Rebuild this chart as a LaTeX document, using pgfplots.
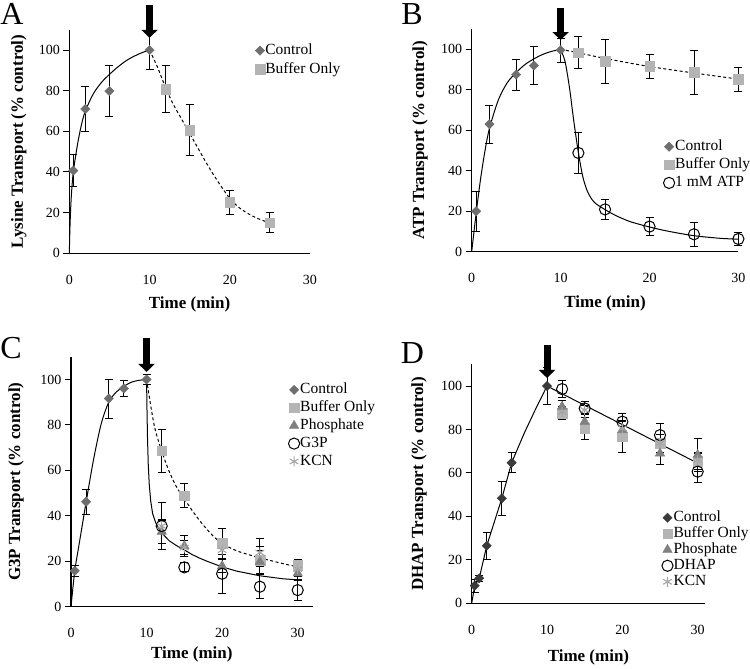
\documentclass[border=0pt]{standalone}
\usepackage{fontspec}
\setmainfont{Liberation Serif}
\usepackage{pgfplots}
\pgfplotsset{compat=1.18}
\usetikzlibrary{arrows.meta}
\definecolor{ctrlc}{HTML}{6E6E6E}
\definecolor{ctrld}{HTML}{3A3A3A}
\definecolor{bufc}{HTML}{B4B4B4}
\definecolor{phosc}{HTML}{808080}
\definecolor{kcnc}{HTML}{A6A6A6}
\tikzset{downarrow/.style={line width=7pt, -{Triangle[width=16pt 0, length=8pt 0]}}}
\pgfplotsset{
  panel/.style={
    scale only axis, axis lines=left,
    axis line style={-, line width=1.1pt, black},
    xmin=0, ymin=0, ymax=110,
    xtick={0,10,20,30}, ytick={0,20,40,60,80,100},
    tick align=outside, major tick length=6pt,
    xtick style={draw=none}, ytick style={line width=1pt, black},
    tick label style={font=\fontsize{14}{14}\selectfont},
    /pgf/number format/assume math mode=true,
    xticklabel style={yshift=-12pt},
    clip=false,
    label style={font=\fontsize{17}{17}\selectfont\bfseries},
    legend cell align=left,
    legend style={draw=none, fill=none, font=\fontsize{15.5}{15.5}\selectfont, inner sep=0pt,
      nodes={inner sep=0.5pt, text height=10.5pt, text depth=3pt},
      /tikz/every even column/.append style={column sep=2.5pt}},
    legend image code/.code={\draw[##1] plot coordinates {(4.5pt,0pt)};},
  },
  errb/.style={error bars/y dir=both, error bars/y explicit,
    error bars/error bar style={black, line width=0.9pt, solid},
    error bars/error mark options={rotate=90, black, mark size=4pt, line width=0.9pt}},
  ctrl/.style={only marks, mark=square*, mark size=3.3pt, color=ctrlc, mark options={rotate=45, draw=ctrlc, fill=ctrlc}, errb},
  ctrlD/.style={only marks, mark=square*, mark size=3.3pt, color=ctrld, mark options={rotate=45, draw=ctrld, fill=ctrld}, errb},
  buf/.style={only marks, mark=square*, mark size=4.8pt, color=bufc, mark options={draw=bufc, fill=bufc}, errb},
  phos/.style={only marks, mark=triangle*, mark size=5.5pt, color=phosc, mark options={draw=phosc, fill=phosc}, errb},
  circ/.style={only marks, mark=o, mark size=5.6pt, color=black, mark options={draw=black, fill=white, line width=1pt}, errb},
  kcn/.style={only marks, mark=asterisk, mark size=5pt, color=kcnc, mark options={draw=kcnc, line width=1.1pt}, errb},
  fitsolid/.style={black, line width=1pt, smooth, forget plot},
  fitdash/.style={black, line width=1pt, smooth, dash pattern=on 3pt off 2.5pt, forget plot},
}
\begin{document}
\begin{tikzpicture}
\useasboundingbox (0,0) rectangle (750pt,669pt);
% ---------------- A ----------------
\begin{axis}[panel, at={(69.3pt,415.7pt)}, anchor=south west, width=240.7pt, height=223.6pt, xmax=30,
  xlabel={Time (min)}, ylabel={Lysine Transport (\% control)},
  xlabel style={at={([yshift=-51pt]axis description cs:0.5,0)}, anchor=center},
  ylabel style={at={([xshift=-50.5pt]axis description cs:0,0.5)}, anchor=center},
  legend style={at={(0.7715,0.94)}, anchor=north west, row sep=4.4pt}]
\addplot[fitsolid] coordinates {(0,0) (0.1,15) (0.25,28) (0.5,40) (1,53) (1.5,63) (2,70) (3,78.5) (4,84) (5,88) (6,91.5) (7,94.5) (8,96.8) (9,98.6) (10,100)};
\addplot[fitdash] coordinates {(10,100) (11,91.5) (12,81.5) (13,73) (14,66) (15,59) (16,52) (17,45) (18,38.5) (19,32.5) (20,27) (21,23) (22,20.2) (23,18) (24,16.3) (25,15)};
\addplot[ctrl] table[x=x, y=y, y error=e] {
x y e
0.5 40.7 8
2 71 11
5 79.8 12.5
10 100 9.4
};
\addlegendentry{Control}
\addplot[buf] table[x=x, y=y, y error=e] {
x y e
12 80.7 11.5
15 60.7 12.7
20 25.1 6
25 15.1 5
};
\addlegendentry{Buffer Only}
\draw[downarrow] (axis cs:10,122) -- (axis cs:10,106);
\end{axis}
% ---------------- B ----------------
\begin{axis}[panel, at={(471.7pt,417.3pt)}, anchor=south west, width=266.7pt, height=222.6pt, xmax=30,
  xlabel={Time (min)}, ylabel={ATP Transport (\% control)},
  xlabel style={at={([yshift=-52pt]axis description cs:0.5,0)}, anchor=center},
  ylabel style={at={([xshift=-51.7pt]axis description cs:0,0.5)}, anchor=center},
  legend style={at={(0.7184,0.505)}, anchor=north west, row sep=3.6pt}]
\addplot[fitsolid] coordinates {(0,0) (0.5,19) (1,36) (1.5,50) (2,61) (3,75) (4,83.5) (5,88.5) (6,92.5) (7,95.3) (8,97.5) (9,99) (10,100)};
\addplot[fitsolid] coordinates {(10,100) (10.5,94) (11,81) (11.5,64) (12,49) (12.5,37) (13,30) (13.5,26) (14,23.6) (15,20.8) (16,18.3) (17,16.3) (18,14.6) (20,12.2) (22,10.2) (25,7.9) (28,6.6) (30,6.2)};
\addplot[fitdash] coordinates {(10,100) (12,98.3) (15,95.5) (20,91.5) (25,88.3) (30,85.3)};
\addplot[ctrl] table[x=x, y=y, y error=e] {
x y e
0.5 20 10
2 63 9.5
5 87.5 7.7
7 92 9.3
10 99.6 6
};
\addlegendentry{Control}
\addplot[buf] table[x=x, y=y, y error=e] {
x y e
12 98.3 7.9
15 94 11
20 91.6 6.1
25 88.6 10.7
30 85.2 5.8
};
\addlegendentry{Buffer Only}
\addplot[circ] table[x=x, y=y, y error=e] {
x y e
12 48.8 10.3
15 20.9 5
20 12.4 4.5
25 8.6 6
30 6.3 3
};
\addlegendentry{1 mM ATP}
\draw[downarrow] (axis cs:10,120.5) -- (axis cs:10,104.6);
\end{axis}
% ---------------- C ----------------
\begin{axis}[panel, at={(71pt,62.3pt)}, anchor=south west, width=241.8pt, height=250pt, xmax=32,
  xlabel={Time (min)}, ylabel={G3P Transport (\% control)},
  xlabel style={at={([yshift=-48pt]axis description cs:0.5,0)}, anchor=center},
  ylabel style={at={([xshift=-55pt]axis description cs:0,0.5)}, anchor=center},
  legend style={at={(0.8987,0.897)}, anchor=north west, row sep=3.4pt}]
\addplot[fitsolid] coordinates {(0,0) (0.5,15.8) (1,26) (2,46) (3,65) (4,80.5) (5,90) (6,94.5) (7,97) (8,98.8) (9,99.6) (10,100)};
\addplot[black, line width=1pt, forget plot] coordinates {(10,100) (10.05,88) (10.12,75) (10.22,63) (10.35,54) (10.55,46.5) (10.8,41) (11.2,37) (11.6,34.5) (12,32.5) (13,29) (14,26.8) (15,25) (16,23) (17,21.4) (18,20) (20,17.5) (22,15.6) (25,13.6) (28,12.3) (30,11.8)};
\addplot[fitdash] coordinates {(10,100) (11,80) (12,68.5) (13,59.5) (14,52.5) (15,47.5) (16,42.5) (17,38) (18,34) (19,30.5) (20,27.8) (22,24.5) (25,21.5) (28,19) (30,17.5)};
\addplot[ctrl] table[x=x, y=y, y error=e] {
x y e
0.5 15.8 2.5
2 46.2 5.6
5 91.6 8.6
7 96 3.5
10 100 2
};
\addlegendentry{Control}
\addplot[buf] table[x=x, y=y, y error=e] {
x y e
12 68.6 9.5
15 48.8 5.3
20 27.9 6.5
25 20.5 6
30 18.3 2.5
};
\addlegendentry{Buffer Only}
\addplot[phos] table[x=x, y=y, y error=e] {
x y e
12 33 5
15 26.7 4.5
20 17.9 3
25 19.8 5
30 14.7 3
};
\addlegendentry{Phosphate}
\addplot[circ] table[x=x, y=y, y error=e] {
x y e
12 35.5 10.5
15 17.3 2
20 14.5 8.5
25 8.8 5.2
30 7.3 4.5
};
\addlegendentry{G3P}
\addplot[kcn] table[x=x, y=y, y error=e] {
x y e
12 35.5 3
15 26 3
20 24.9 4
25 23.8 6.3
30 16.5 3
};
\addlegendentry{KCN}
\draw[downarrow] (axis cs:10,118.2) -- (axis cs:10,103.3);
\end{axis}
% ---------------- D ----------------
\begin{axis}[panel, at={(471.7pt,65.7pt)}, anchor=south west, width=233.5pt, height=239pt, xmax=31,
  xlabel={Time (min)}, ylabel={DHAP Transport (\% control)},
  xlabel style={at={([yshift=-54pt]axis description cs:0.5,0)}, anchor=center},
  ylabel style={at={([xshift=-52.7pt]axis description cs:0,0.5)}, anchor=center},
  legend style={at={(0.8137,0.389)}, anchor=north west, row sep=1.5pt}]
\addplot[black, line width=1pt, forget plot] coordinates {(0,0) (0.4,8.1) (1,11.5) (2,26.5) (4,48.3) (5.3,64.7) (7,78.5) (8.5,89.5) (10,100)};
\addplot[black, line width=1pt, forget plot] coordinates {(10,100) (30,64.5)};
\addplot[ctrlD] table[x=x, y=y, y error=e] {
x y e
0.4 8.1 3
1 11.5 1.5
2 26.5 6.3
4 48.3 8
5.3 64.7 4.5
10 100 8.5
};
\addlegendentry{Control}
\addplot[buf] table[x=x, y=y, y error=e] {
x y e
12 87.4 3
15 80.5 5
20 76.7 7.4
25 73.6 4
30 65.5 4
};
\addlegendentry{Buffer Only}
\addplot[phos] table[x=x, y=y, y error=e] {
x y e
12 90.5 3
15 83.6 4
20 79.8 4
25 69 5
30 68.3 7.6
};
\addlegendentry{Phosphate}
\addplot[circ] table[x=x, y=y, y error=e] {
x y e
12 98.6 3.8
15 89.7 3
20 83.6 4
25 77.4 5.4
30 60.6 5
};
\addlegendentry{DHAP}
\addplot[kcn] table[x=x, y=y, y error=e] {
x y e
12 88 2
15 89 2
20 80.5 3
25 73.6 4
30 66 3
};
\addlegendentry{KCN}
\draw[downarrow] (axis cs:10,118.9) -- (axis cs:10,103.7);
\end{axis}
% panel letters
\node[font=\fontsize{32}{32}\selectfont, anchor=center] at (12pt,655pt) {A};
\node[font=\fontsize{32}{32}\selectfont, anchor=center] at (412pt,655pt) {B};
\node[font=\fontsize{32}{32}\selectfont, anchor=center] at (11pt,321pt) {C};
\node[font=\fontsize{32}{32}\selectfont, anchor=center] at (412.5pt,316pt) {D};
\end{tikzpicture}
\end{document}
